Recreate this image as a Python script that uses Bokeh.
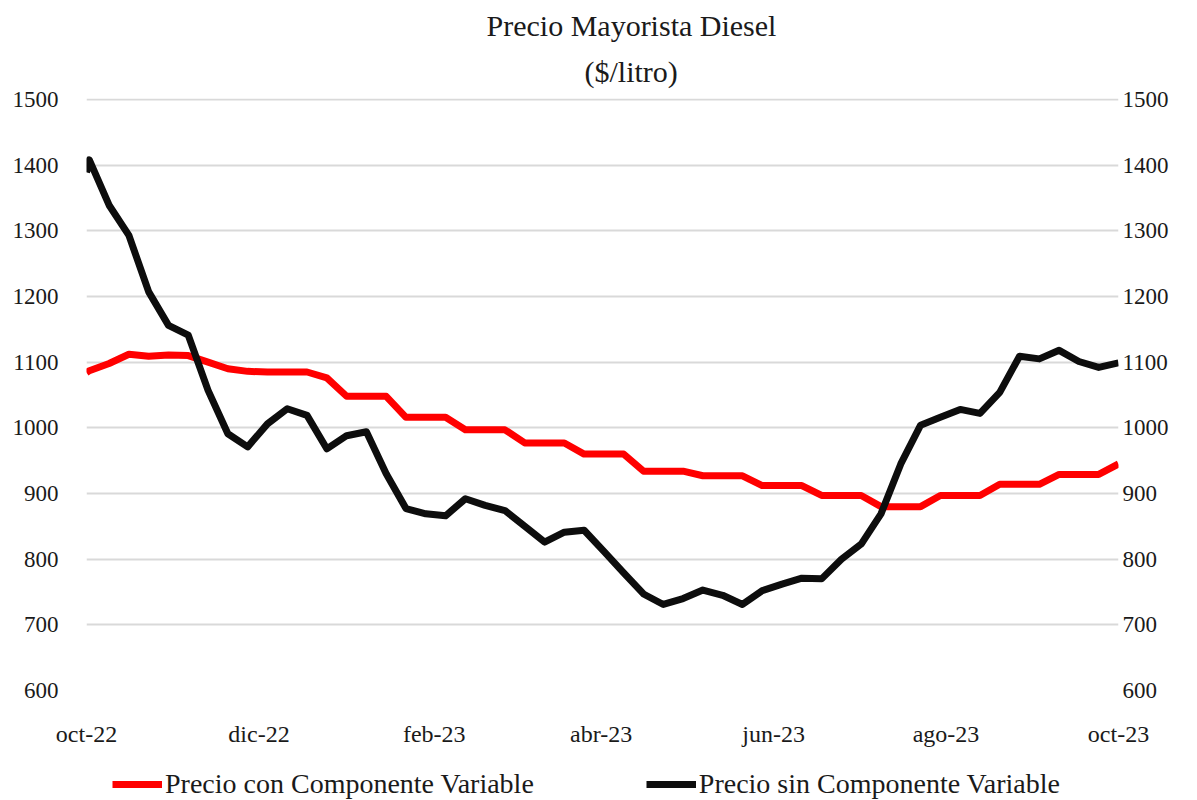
import pandas as pd
from bokeh.plotting import figure
from bokeh.layouts import column
from bokeh.models import Range1d, LinearAxis, FixedTicker, Legend, LegendItem, Title, ColumnDataSource
from bokeh.embed import file_html
from bokeh.resources import INLINE

# ---- data ----
fechas = ["2022-10-01"] + [d.strftime("%Y-%m-%d") for d in pd.date_range("2022-10-02", "2023-10-01", freq="7D")]

precio_con = [1084,
              1087, 1098, 1112, 1109, 1111, 1110, 1100, 1090, 1086, 1085,
              1085, 1085, 1076, 1048, 1048, 1048, 1016, 1016, 1016, 997,
              997, 997, 977, 977, 977, 960, 960, 960, 934, 934,
              934, 927, 927, 927, 912, 912, 912, 897, 897, 897,
              880, 880, 880, 897, 897, 897, 914, 914, 914, 929,
              929, 929, 945]

precio_sin = [1389,
              1408, 1339, 1293, 1207, 1156, 1141, 1057, 991, 971, 1006,
              1029, 1019, 968, 988, 994, 930, 877, 869, 866, 892,
              882, 874, 850, 826, 841, 844, 812, 779, 747, 731,
              740, 753, 745, 731, 752, 762, 771, 770, 800, 823,
              869, 945, 1004, 1016, 1028, 1022, 1054, 1109, 1105, 1118,
              1101, 1092, 1099]

meses = ["2022-10-01", "2022-12-01", "2023-02-01", "2023-04-01", "2023-06-01", "2023-08-01", "2023-10-01"]
etiquetas_x = ["oct-22", "dic-22", "feb-23", "abr-23", "jun-23", "ago-23", "oct-23"]
ticks_y = [600, 700, 800, 900, 1000, 1100, 1200, 1300, 1400, 1500]

titulo = "Precio Mayorista Diesel"
subtitulo = "($/litro)"
serie_con = "Precio con Componente Variable"
serie_sin = "Precio sin Componente Variable"

# ---- derived ----
base = pd.Timestamp("2022-10-01")
dias = [int((pd.Timestamp(f) - base).days) for f in fechas]
dias_ticks = [int((pd.Timestamp(m) - base).days) for m in meses]

FONT = "Liberation Serif"
TXT = "#1a1a1a"
ROJO = "#ff0000"
NEGRO = "#0d0d0d"
LW = 7

src = ColumnDataSource(dict(x=dias, con=precio_con, sin=precio_sin))

p = figure(width=1197, height=750, output_backend="svg", toolbar_location=None,
           title=None,
           x_range=Range1d(dias_ticks[0], dias_ticks[-1]),
           y_range=Range1d(ticks_y[0], ticks_y[-1] + 1.5),
           min_border_left=86, min_border_right=79, min_border_top=98, min_border_bottom=60)
p.outline_line_color = None
p.background_fill_color = "white"
p.border_fill_color = "white"

p.line("x", "con", source=src, line_color=ROJO, line_width=LW, line_join="round")
p.line("x", "sin", source=src, line_color=NEGRO, line_width=LW, line_join="round")

# axes
def style_axis(ax, size="23px"):
    ax.axis_line_color = None
    ax.major_tick_line_color = None
    ax.minor_tick_line_color = None
    ax.major_tick_in = 0
    ax.major_tick_out = 0
    ax.minor_tick_in = 0
    ax.minor_tick_out = 0
    ax.major_label_text_font = FONT
    ax.major_label_text_font_size = size
    ax.major_label_text_color = TXT

p.yaxis.ticker = FixedTicker(ticks=ticks_y)
style_axis(p.yaxis[0])
p.yaxis.major_label_standoff = 28

ry = LinearAxis(ticker=FixedTicker(ticks=ticks_y))
style_axis(ry)
ry.major_label_standoff = 4
p.add_layout(ry, "right")

p.xaxis.ticker = FixedTicker(ticks=dias_ticks)
p.xaxis.major_label_overrides = {d: lab for d, lab in zip(dias_ticks, etiquetas_x)}
style_axis(p.xaxis[0], "24px")
p.xaxis.major_label_standoff = 30

p.xgrid.grid_line_color = None
p.ygrid.grid_line_color = "#d9d9d9"
p.ygrid.grid_line_width = 2

# titles (first added is closest to the plot)
t2 = Title(text=subtitulo, align="left", offset=498, vertical_align="middle", text_font=FONT,
           text_font_size="30px", text_font_style="normal", text_color=TXT, standoff=19)
t1 = Title(text=titulo, align="left", offset=400, text_font=FONT, text_font_size="30px",
           text_font_style="normal", text_color=TXT, standoff=5)
p.add_layout(t2, "above")
p.add_layout(t1, "above")

# legend strip below the chart (same series, drawn out of view; only the legend shows)
q = figure(width=1197, height=50, output_backend="svg", toolbar_location=None,
           x_axis_location=None, y_axis_location=None, min_border=0,
           x_range=p.x_range, y_range=Range1d(0, 1))
q.outline_line_color = None
q.grid.visible = False
q.border_fill_color = "white"
lc = q.line("x", "con", source=src, line_color=ROJO, line_width=LW)
ls = q.line("x", "sin", source=src, line_color=NEGRO, line_width=LW)
legend = Legend(items=[LegendItem(label=serie_con, renderers=[lc]),
                       LegendItem(label=serie_sin, renderers=[ls])],
                location=(26, 0), orientation="horizontal",
                glyph_width=50, glyph_height=20, label_standoff=3, spacing=112,
                padding=0, margin=0, border_line_color=None, background_fill_alpha=0,
                label_text_font=FONT, label_text_font_size="28px", label_text_color=TXT)
q.add_layout(legend)

layout = column(p, q, spacing=0)
open("out.html", "w").write(file_html(layout, INLINE))
